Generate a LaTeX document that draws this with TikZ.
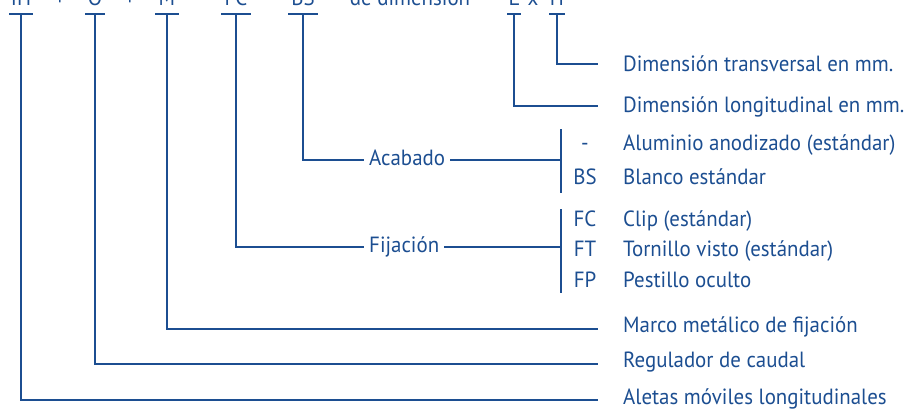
\documentclass[tikz,border=0pt]{standalone}
\usepackage{fontspec}
\setmainfont[FakeStretch=0.95]{PT Sans}
\definecolor{codeblue}{RGB}{28,78,145}
\tikzset{
  line/.style={draw=codeblue, line width=1.2pt},
  code/.style={anchor=base, inner sep=0pt, text=codeblue},
  desc/.style={anchor=base west, inner xsep=25pt, inner ysep=0pt, text=codeblue},
  group/.style={anchor=base west, inner xsep=5pt, inner ysep=0pt, text=codeblue}
}
\begin{document}
\begin{tikzpicture}[x=1pt,y=-1pt,font=\fontsize{22}{26}\selectfont]
    \useasboundingbox (0,0) rectangle (914,410);

    % code line, cut at the top edge
    \node[code] (cIH) at (21,5) {IH};
    \node[code] (s1) at (60,5) {+};
    \node[code] (cO) at (95,5) {O};
    \node[code] (s2) at (130,5) {+};
    \node[code] (cM) at (167,5) {M};
    \node[code] (s3) at (201,5) {-};
    \node[code] (cFC) at (236,5) {FC};
    \node[code] (s4) at (270,5) {-};
    \node[code] (cBS) at (303,5) {BS};
    \node[code] (cdim) at (410,5) {de dimensión};
    \node[code] (cL) at (514,5) {L};
    \node[code] (cx) at (533,5) {x};
    \node[code] (cH) at (557,5) {H};

    % bars under the codes
    \foreach \n/\w in {IH/12, O/10, M/12, FC/15, BS/15, L/7, H/8} {
        \coordinate (b\n) at (c\n.base |- 0,14);
        \draw[line] ([xshift=-\w pt]b\n) -- ([xshift=\w pt]b\n);
    }

    % descriptions
    \node[desc] (dH) at (598,71) {Dimensión transversal en mm.};
    \node[desc] (dL) at (598,112) {Dimensión longitudinal en mm.};
    \node[desc] (dM) at (598,332) {Marco metálico de fijación};
    \node[desc] (dO) at (598,367) {Regulador de caudal};
    \node[desc] (dIH) at (598,404) {Aletas móviles longitudinales};
    \draw[line] (bH) |- ([yshift=7pt]dH.base west);
    \draw[line] (bL) |- ([yshift=6pt]dL.base west);
    \draw[line] (bM) |- ([yshift=3pt]dM.base west);
    \draw[line] (bO) |- ([yshift=3pt]dO.base west);
    \draw[line] (bIH) |- ([yshift=4pt]dIH.base west);

    % Acabado
    \node[group] (acabado) at (364,165) {Acabado};
    \coordinate (acTop) at (561,129);
    \coordinate (acMid) at (561,160);
    \coordinate (acBot) at (561,193);
    \draw[line] (bBS) |- ([yshift=5pt]acabado.base west);
    \draw[line] ([yshift=5pt]acabado.base east) -- (acMid);
    \draw[line] (acTop) -- (acBot);
    \node[code] (kA) at (585,150) {-};
    \node[code] (kBS) at (585,184) {BS};
    \node[desc, inner xsep=0pt] (tA) at (623,150) {Aluminio anodizado (estándar)};
    \node[desc, inner xsep=0pt] (tBS) at (623,184) {Blanco estándar};

    % Fijación
    \node[group] (fijacion) at (364,252) {Fijación};
    \coordinate (fiTop) at (561,209);
    \coordinate (fiMid) at (561,247);
    \coordinate (fiBot) at (561,293);
    \draw[line] (bFC) |- ([yshift=5pt]fijacion.base west);
    \draw[line] ([yshift=5pt]fijacion.base east) -- (fiMid);
    \draw[line] (fiTop) -- (fiBot);
    \node[code] (kFC) at (585,226) {FC};
    \node[code] (kFT) at (585,256) {FT};
    \node[code] (kFP) at (585,287) {FP};
    \node[desc, inner xsep=0pt] (tFC) at (623,226) {Clip (estándar)};
    \node[desc, inner xsep=0pt] (tFT) at (623,256) {Tornillo visto (estándar)};
    \node[desc, inner xsep=0pt] (tFP) at (623,287) {Pestillo oculto};
\end{tikzpicture}
\end{document}
